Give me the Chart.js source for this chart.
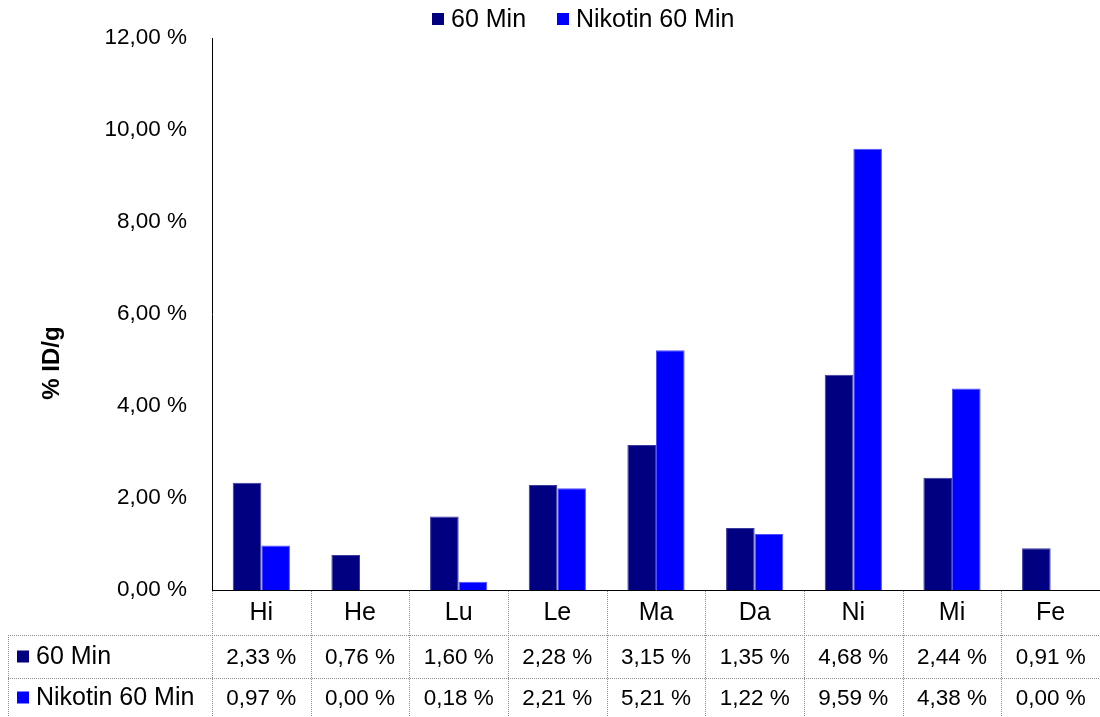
<!DOCTYPE html>
<html>
<head>
<meta charset="utf-8">
<script src="https://cdn.jsdelivr.net/npm/chart.js@4"></script>
<style>
  html, body { margin: 0; padding: 0; background: #fff; }
  #wrap { width: 1100px; height: 717px; }
</style>
</head>
<body>
<div id="wrap"><canvas id="barChart" width="1100" height="717"></canvas></div>
<script>
// Organe und Messwerte (% ID/g)
var organs = ["Hi", "He", "Lu", "Le", "Ma", "Da", "Ni", "Mi", "Fe"];
var min60 = [2.33, 0.76, 1.60, 2.28, 3.15, 1.35, 4.68, 2.44, 0.91];
var nikotin60 = [0.97, 0.00, 0.18, 2.21, 5.21, 1.22, 9.59, 4.38, 0.00];
var seriesNames = ["60 Min", "Nikotin 60 Min"];
var seriesColors = ["#000080", "#0000FF"];
var axisTitle = "% ID/g";

var FONT = "Liberation Sans, Arial, sans-serif";

function fmt(v) {
  return v.toFixed(2).replace(".", ",") + " %";
}

// Legende oben, Achsentitel und Datentabelle unter dem Diagramm
var tablePlugin = {
  id: "dataTable",
  afterDraw: function (chart) {
    var ctx = chart.ctx;
    var xs = chart.scales.x;
    var area = chart.chartArea;
    var step = xs.getPixelForValue(1) - xs.getPixelForValue(0);
    var top = area.bottom;
    var row1 = 635, row2 = 678, bottom = 717, leftEdge = 8;

    ctx.save();
    // gepunktete Gitterlinien
    ctx.strokeStyle = "#8c8c8c";
    ctx.lineWidth = 1;
    ctx.setLineDash([1, 1]);
    ctx.beginPath();
    for (var i = 0; i <= organs.length; i++) {
      var bx = Math.round(xs.getPixelForValue(i) - step / 2) + 0.5;
      ctx.moveTo(bx, top + 1);
      ctx.lineTo(bx, bottom);
    }
    ctx.moveTo(leftEdge + 0.5, row1);
    ctx.lineTo(leftEdge + 0.5, bottom);
    ctx.moveTo(leftEdge, row1 + 0.5);
    ctx.lineTo(area.right, row1 + 0.5);
    ctx.moveTo(leftEdge, row2 + 0.5);
    ctx.lineTo(area.right, row2 + 0.5);
    ctx.stroke();
    ctx.setLineDash([]);

    ctx.fillStyle = "#000";
    ctx.textAlign = "center";
    ctx.textBaseline = "middle";
    organs.forEach(function (name, i) {
      var cx = xs.getPixelForValue(i);
      ctx.font = "25px " + FONT;
      ctx.fillText(name, cx, (top + row1) / 2 + 1);
      ctx.font = "22.5px " + FONT;
      ctx.fillText(fmt(min60[i]), cx, (row1 + row2) / 2 + 1);
      ctx.fillText(fmt(nikotin60[i]), cx, (row2 + bottom) / 2 + 1);
    });

    // Zeilenbeschriftungen mit Farbkästchen
    ctx.textAlign = "left";
    ctx.font = "25px " + FONT;
    [row1, row2].forEach(function (ry, k) {
      var cy = k === 0 ? (row1 + row2) / 2 : (row2 + bottom) / 2;
      ctx.fillStyle = seriesColors[k];
      ctx.fillRect(17, cy - 6, 12, 12);
      ctx.fillStyle = "#000";
      ctx.fillText(seriesNames[k], 36, cy + 1);
    });

    // Legende
    var lx = [432, 557];
    seriesNames.forEach(function (name, k) {
      ctx.fillStyle = seriesColors[k];
      ctx.fillRect(lx[k], 13, 12, 12);
      ctx.fillStyle = "#000";
      ctx.fillText(name, lx[k] + 19, 20);
    });

    // Achsentitel
    ctx.translate(52, 363);
    ctx.rotate(-Math.PI / 2);
    ctx.textAlign = "center";
    ctx.font = "bold 24px " + FONT;
    ctx.fillText(axisTitle, 0, 0);
    ctx.restore();
  }
};

var ctxBar = document.getElementById("barChart").getContext("2d");
var barChart = new Chart(ctxBar, {
  type: "bar",
  data: {
    labels: organs,
    datasets: [
      {
        label: seriesNames[0],
        data: min60,
        backgroundColor: seriesColors[0],
        borderColor: "#3a3aa0",
        borderWidth: 1,
        categoryPercentage: 0.58,
        barPercentage: 1.0
      },
      {
        label: seriesNames[1],
        data: nikotin60,
        backgroundColor: seriesColors[1],
        borderColor: "#5050ff",
        borderWidth: 1,
        categoryPercentage: 0.58,
        barPercentage: 1.0
      }
    ]
  },
  options: {
    responsive: false,
    animation: false,
    layout: { padding: { top: 38, bottom: 127, left: 0, right: 0 } },
    scales: {
      x: {
        grid: { display: false },
        border: { display: true, color: "#000", width: 1 },
        ticks: { display: false },
        afterFit: function (scale) { scale.height = 0; }
      },
      y: {
        min: 0,
        max: 12,
        grid: { display: false },
        border: { display: true, color: "#000", width: 1 },
        ticks: {
          stepSize: 2,
          padding: 17,
          color: "#000",
          font: { family: FONT, size: 22.5 },
          callback: function (v) { return fmt(v); }
        },
        afterFit: function (scale) { scale.width = 212; }
      }
    },
    plugins: {
      legend: { display: false },
      tooltip: { enabled: false }
    }
  },
  plugins: [tablePlugin]
});
</script>
</body>
</html>
